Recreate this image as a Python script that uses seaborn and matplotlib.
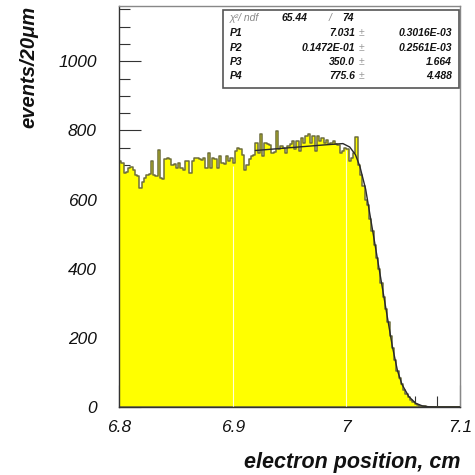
import numpy as np
import pandas as pd
import matplotlib
matplotlib.use("Agg")
import matplotlib.pyplot as plt
import seaborn as sns
from matplotlib.patches import Rectangle
from matplotlib.ticker import MultipleLocator, FuncFormatter

# Histogram: 150 bins of 20 um between 6.8 and 7.1 cm
x_lo, x_hi, n_bins = 6.8, 7.1, 150
counts = [
    713, 705, 677, 680, 692, 695, 687, 672, 668, 634,
    650, 663, 672, 675, 711, 672, 668, 742, 663, 660,
    716, 721, 718, 701, 704, 690, 706, 690, 687, 711,
    713, 677, 711, 721, 720, 716, 714, 721, 691, 735,
    690, 721, 718, 691, 725, 706, 703, 725, 712, 720,
    705, 740, 750, 745, 730, 687, 700, 716, 726, 728,
    764, 735, 789, 726, 764, 760, 758, 735, 738, 798,
    745, 755, 750, 735, 755, 760, 769, 745, 769, 740,
    779, 764, 783, 789, 764, 783, 740, 783, 770, 779,
    764, 772, 760, 765, 770, 762, 758, 735, 740, 750,
    745, 712, 720, 735, 782, 700, 672, 640, 600, 585,
    545, 508, 470, 430, 398, 360, 318, 283, 245, 205,
    170, 137, 105, 85, 66, 50, 38, 28, 20, 14,
    10, 6, 4, 3, 2, 1, 1, 0, 0, 0,
    0, 0, 0, 0, 0, 0, 0, 0, 0, 0,
]

# Fitted edge function, sampled along the fit range
fit_x = [6.92, 6.95, 6.98, 6.997, 7.003, 7.008, 7.012, 7.017, 7.023, 7.029,
         7.035, 7.0405, 7.045, 7.049, 7.055, 7.061, 7.067, 7.073, 7.08, 7.1]
fit_y = [742, 750, 758, 762, 752, 730, 695, 630, 513, 397,
         281, 175, 105, 65, 30, 11, 3, 0.5, 0, 0]

# Fit statistics box
stat_names = ["P1", "P2", "P3", "P4"]
stat_values = ["7.031", "0.1472E-01", "350.0", "775.6"]
stat_errors = ["0.3016E-03", "0.2561E-03", "1.664", "4.488"]
chi2_text, ndf_text = "65.44", "74"

sns.set_theme(style="white")
plt.rcParams['font.family'] = ['Liberation Sans', 'DejaVu Sans']

edges = np.linspace(x_lo, x_hi, n_bins + 1)
centers = 0.5 * (edges[:-1] + edges[1:])
df = pd.DataFrame({"position": centers, "events": counts})

W = H = 475
fig = plt.figure(figsize=(4.75, 4.75), dpi=100)
fig.patch.set_facecolor("white")
L, R, T, B = 119, 460, 6, 407
ax = fig.add_axes([L / W, 1 - B / H, (R - L) / W, (B - T) / H])
ax.set_facecolor("white")

sns.histplot(data=df, x="position", weights="events", bins=n_bins,
             binrange=(x_lo, x_hi),
             element="step", fill=True, color="#ffff00", alpha=1,
             edgecolor="#6e6e3c", linewidth=1.1, ax=ax, zorder=1)

# faint vertical grid inside the filled area
for gx in (6.9, 7.0):
    idx = int(np.searchsorted(edges, gx)) - 1
    ax.vlines(gx, 0, counts[idx] - 8, color="white", lw=0.8, alpha=0.85, zorder=2)

sns.lineplot(x=fit_x, y=fit_y, ax=ax, color="#2a2a2a", linewidth=1.0,
             sort=False, estimator=None, zorder=3)

ax.set_xlim(x_lo, x_hi)
ax.set_ylim(0, 1160)
ax.xaxis.set_major_locator(MultipleLocator(0.1))
ax.xaxis.set_minor_locator(MultipleLocator(0.02))
ax.yaxis.set_major_locator(MultipleLocator(200))
ax.yaxis.set_minor_locator(MultipleLocator(50))
ax.xaxis.set_major_formatter(FuncFormatter(lambda v, p: f"{v:g}"))
ax.yaxis.set_major_formatter(FuncFormatter(lambda v, p: f"{v:g}"))

ax.tick_params(which="major", direction="in", length=16, width=0.8,
               color="#333333", left=True, bottom=True, top=False, right=False)
ax.tick_params(which="minor", direction="in", length=8, width=0.8,
               color="#333333", left=True, bottom=True, top=False, right=False)
ax.tick_params(axis="y", which="major", pad=16)
ax.tick_params(axis="x", which="major", pad=9)
for lab in ax.get_xticklabels() + ax.get_yticklabels():
    lab.set_fontsize(12.5)
    lab.set_fontstyle("italic")
    lab.set_color("#111111")

for side in ("left", "bottom"):
    ax.spines[side].set_color("#333333")
    ax.spines[side].set_linewidth(1.0)
for side in ("top", "right"):
    ax.spines[side].set_color("#888888")
    ax.spines[side].set_linewidth(1.0)

ax.set_xlabel("electron position, cm", loc="right", fontsize=15.5,
              fontweight="bold", fontstyle="italic", color="#111111")
ax.set_ylabel("events/20\u03bcm", loc="top", fontsize=14.5,
              fontweight="bold", fontstyle="italic", color="#111111")
ax.xaxis.set_label_coords(1.0, -0.112)
ax.yaxis.set_label_coords(-0.236, 1.0)


def fx(px):
    return px / W


def fy(py):
    return 1 - py / H


# stats box
fig.patches.append(Rectangle((fx(223), fy(88)), fx(459) - fx(223), (88 - 10) / H,
                             transform=fig.transFigure, facecolor="white",
                             edgecolor="#555555", linewidth=1.2, zorder=5))
st = dict(fontsize=7.5, fontweight="bold", fontstyle="italic", color="#111111",
          va="center", zorder=6, transform=fig.transFigure)
rows_y = [18.3, 33.3, 47.7, 61.7, 76]
fig.text(fx(230), fy(rows_y[0]), "\u03c7\u00b2/ ndf", **{**st, "fontweight": "normal", "color": "#888888"})
fig.text(fx(307), fy(rows_y[0]), chi2_text, ha="right", **st)
fig.text(fx(330), fy(rows_y[0]), "/", ha="center", **{**st, "fontweight": "normal", "color": "#888888"})
fig.text(fx(342), fy(rows_y[0]), ndf_text, ha="left", **st)
for i, (n, v, e) in enumerate(zip(stat_names, stat_values, stat_errors)):
    y = fy(rows_y[i + 1])
    fig.text(fx(230), y, n, ha="left", **st)
    fig.text(fx(355), y, v, ha="right", **st)
    fig.text(fx(362), y, "\u00b1", ha="center", **{**st, "fontweight": "normal", "color": "#999999"})
    fig.text(fx(452), y, e, ha="right", **st)

fig.savefig("out.png", dpi=100, facecolor="white")
